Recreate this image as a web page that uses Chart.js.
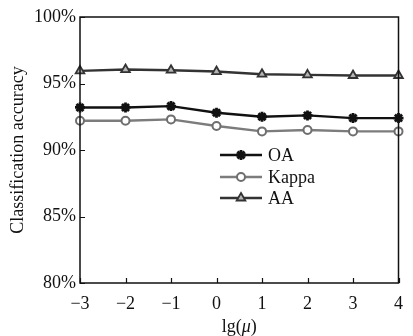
<!DOCTYPE html>
<html>
<head>
<meta charset="utf-8">
<script src="https://cdn.jsdelivr.net/npm/chart.js@4.4.1/dist/chart.umd.min.js"></script>
<style>
  html, body { margin: 0; padding: 0; background: #fff; }
  #wrap { width: 413px; height: 336px; }
</style>
</head>
<body>
<div id="wrap"><canvas id="chart" width="413" height="336"></canvas></div>
<script>
// valores
const xValues = [-3, -2, -1, 0, 1, 2, 3, 4];
const oaValues = [93.2, 93.2, 93.3, 92.8, 92.5, 92.6, 92.4, 92.4];
const kappaValues = [92.2, 92.2, 92.3, 91.8, 91.4, 91.5, 91.4, 91.4];
const aaValues = [95.95, 96.05, 96.0, 95.9, 95.7, 95.65, 95.6, 95.6];
const yTicks = [80, 85, 90, 95, 100];
const xTitle = ['lg(', 'μ', ')'];
const yTitle = 'Classification accuracy';

const FONT = '"Liberation Serif", "Times New Roman", serif';

function toPoints(vals) {
    return xValues.map((x, i) => ({ x: x, y: vals[i] }));
}

// marco, marcas interiores, titulos y leyenda
const framePlugin = {
    id: 'frame',
    afterDraw(chart) {
        const ctx = chart.ctx;
        const a = chart.chartArea;
        const xs = chart.scales.x;
        const ys = chart.scales.y;
        ctx.save();
        ctx.strokeStyle = '#111';
        ctx.lineWidth = 1.5;
        ctx.strokeRect(a.left, a.top, a.right - a.left, a.bottom - a.top);

        ctx.lineWidth = 1.2;
        ctx.beginPath();
        xValues.forEach(v => {
            const px = Math.round(xs.getPixelForValue(v)) + 0.5;
            ctx.moveTo(px, a.bottom);
            ctx.lineTo(px, a.bottom - 5);
        });
        yTicks.forEach(v => {
            const py = Math.round(ys.getPixelForValue(v)) + 0.5;
            ctx.moveTo(a.left, py);
            ctx.lineTo(a.left + 5, py);
        });
        ctx.stroke();

        // titulo eje y
        ctx.fillStyle = '#111';
        ctx.font = '18px ' + FONT;
        ctx.textAlign = 'center';
        ctx.textBaseline = 'middle';
        ctx.save();
        ctx.translate(18, (a.top + a.bottom) / 2);
        ctx.rotate(-Math.PI / 2);
        ctx.fillText(yTitle, 0, 0);
        ctx.restore();

        // titulo eje x con mu en cursiva
        const fonts = ['18px ' + FONT, 'italic 18px ' + FONT, '18px ' + FONT];
        let total = 0;
        const widths = xTitle.map((t, i) => {
            ctx.font = fonts[i];
            const w = ctx.measureText(t).width;
            total += w;
            return w;
        });
        let tx = (a.left + a.right) / 2 - total / 2;
        ctx.textAlign = 'left';
        xTitle.forEach((t, i) => {
            ctx.font = fonts[i];
            ctx.fillText(t, tx, 327);
            tx += widths[i];
        });

        // leyenda
        const rowY = [155, 177, 198];
        chart.data.datasets.forEach((ds, i) => {
            const y = rowY[i];
            ctx.strokeStyle = ds.borderColor;
            ctx.lineWidth = ds.borderWidth;
            ctx.beginPath();
            ctx.moveTo(220, y);
            ctx.lineTo(262, y);
            ctx.stroke();
            ctx.fillStyle = ds.pointBackgroundColor;
            ctx.strokeStyle = ds.pointBorderColor;
            ctx.lineWidth = ds.pointBorderWidth;
            Chart.helpers.drawPoint(ctx, {
                pointStyle: ds.pointStyle,
                radius: ds.pointRadius,
                borderWidth: ds.pointBorderWidth,
                rotation: 0
            }, 241, y);
            ctx.fillStyle = '#111';
            ctx.font = '18px ' + FONT;
            ctx.textAlign = 'left';
            ctx.textBaseline = 'middle';
            ctx.fillText(ds.label, 268, y + 1);
        });
        ctx.restore();
    }
};

new Chart(document.getElementById('chart'), {
    type: 'line',
    data: {
        datasets: [
            {
                label: 'OA',
                data: toPoints(oaValues),
                borderColor: '#111',
                borderWidth: 2.4,
                pointStyle: 'star',
                pointRadius: 5,
                pointBorderWidth: 2.8,
                pointBackgroundColor: '#111',
                pointBorderColor: '#111',
                clip: false
            },
            {
                label: 'Kappa',
                data: toPoints(kappaValues),
                borderColor: '#7c7c7c',
                borderWidth: 2.4,
                pointStyle: 'circle',
                pointRadius: 4,
                pointBorderWidth: 2,
                pointBackgroundColor: '#fff',
                pointBorderColor: '#6e6e6e',
                clip: false
            },
            {
                label: 'AA',
                data: toPoints(aaValues),
                borderColor: '#333',
                borderWidth: 2.4,
                pointStyle: 'triangle',
                pointRadius: 5,
                pointBorderWidth: 1.8,
                pointBackgroundColor: '#b5b5b5',
                pointBorderColor: '#333',
                clip: false
            }
        ]
    },
    options: {
        responsive: false,
        animation: false,
        layout: { padding: { top: 17, right: 3, left: 0, bottom: 0 } },
        plugins: {
            legend: { display: false },
            tooltip: { enabled: false }
        },
        scales: {
            x: {
                type: 'linear',
                min: -3,
                max: 4,
                afterFit(scale) { scale.height = 53; },
                afterBuildTicks(scale) {
                    scale.ticks = xValues.map(v => ({ value: v }));
                },
                ticks: {
                    color: '#111',
                    font: { family: FONT, size: 18 },
                    padding: 10,
                    maxRotation: 0,
                    callback: v => (v < 0 ? '\u2212' + Math.abs(v) : String(v))
                },
                grid: { display: false, drawTicks: false },
                border: { display: false }
            },
            y: {
                min: 80,
                max: 100,
                afterFit(scale) { scale.width = 80; },
                afterBuildTicks(scale) {
                    scale.ticks = yTicks.map(v => ({ value: v }));
                },
                ticks: {
                    color: '#111',
                    font: { family: FONT, size: 18 },
                    padding: 4,
                    callback: v => v + '%'
                },
                grid: { display: false, drawTicks: false },
                border: { display: false }
            }
        }
    },
    plugins: [framePlugin]
});
</script>
</body>
</html>
